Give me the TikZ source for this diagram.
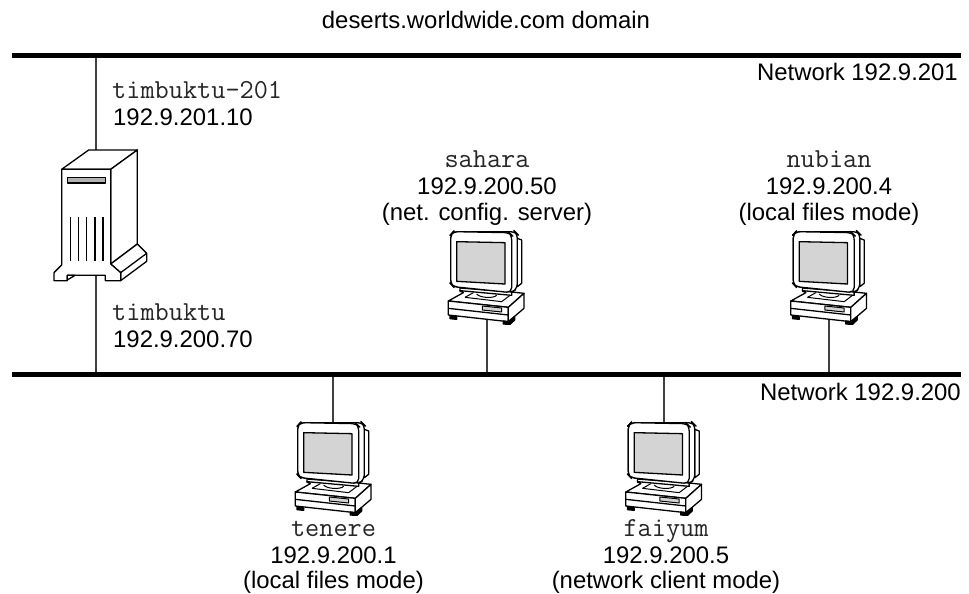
\documentclass[tikz,border=0pt]{standalone}
\usepackage{fontspec}
\setmainfont{Liberation Sans}
\tikzset{
  bar/.style={line width=5.5pt},
  wire/.style={line width=1.3pt,draw=black!75},
  art/.style={line width=1.3pt,line join=round},
  thin art/.style={line width=1pt,line join=round},
  lbl/.style={inner sep=0pt,font=\fontsize{23.9}{27}\selectfont,anchor=base},
  lbll/.style={lbl,anchor=base west},
  lblr/.style={lbl,anchor=base east},
  mono/.style={text=black!85,font=\fontsize{27.5}{27}\ttfamily\selectfont},
}
\definecolor{screen}{gray}{0.83}
\newcommand{\workstn}[2]{%
\begin{scope}[shift={(#1,#2)},x=0.33333pt,y=-0.33333pt]
  % back of monitor
  \draw[art,fill=white] (262,55) -- (275,60) -- (275,190) -- (262,200) -- cycle;
  % side of monitor
  \draw[art,fill=white,rounded corners=5pt] (62,44) -- (70,35) -- (255,35) -- (262,42) -- (262,205) -- (245,218) -- (70,200) -- (62,190) -- cycle;
  % stand
  \draw[art,fill=white] (90,204) -- (90,214) -- (130,218) -- (245,228) -- (245,216) -- cycle;
  % base top
  \draw[art,fill=white] (100,218) -- (55,243) -- (235,262) -- (282,220) -- (245,216) -- (245,226) -- (90,212) -- cycle;
  \draw[thin art] (105,232) -- (130,218);
  \draw[thin art] (105,232) -- (215,245) -- (240,226);
  \draw[thin art] (140,222) .. controls (150,234) and (190,236) .. (200,226);
  % front and side of base
  \draw[art,fill=white] (55,243) -- (55,285) -- (235,305) -- (235,262) -- cycle;
  \draw[art,fill=white] (235,262) -- (282,220) -- (282,265) -- (235,305) -- cycle;
  \draw[art] (55,265) -- (235,285);
  \draw[thin art,fill=screen] (157,258) -- (215,264) -- (215,276) -- (157,270) -- cycle;
  % feet
  \draw[art,fill=black] (60,288) -- (60,296) -- (80,298) -- (80,290) -- cycle;
  \draw[art,fill=black] (220,303) -- (220,312) -- (240,313) -- (254,300) -- (254,290) -- (235,305) -- cycle;
  % front of monitor
  \draw[art,fill=white,rounded corners=5pt] (62,44) -- (70,35) -- (238,38) -- (245,45) -- (245,218) -- (70,200) -- (62,192) -- cycle;
  \draw[art,fill=screen] (80,65) -- (225,68) -- (225,192) -- (80,184) -- cycle;
\end{scope}}
\begin{document}
\begin{tikzpicture}[x=1pt,y=-1pt]
\useasboundingbox (0,0) rectangle (969,594);
% networks
\coordinate (n1a) at (12,55.4); \coordinate (n1b) at (961,55.4);
\coordinate (n2a) at (12,374.5); \coordinate (n2b) at (961,374.5);
\coordinate (s1) at (96,55); \coordinate (s2) at (96,374.5);
\coordinate (srvtop) at (96,160); \coordinate (srvbot) at (96,276);
\coordinate (sa) at (487,374.5); \coordinate (sap) at (487,320);
\coordinate (nu) at (829,374.5); \coordinate (nup) at (829,320);
\coordinate (te) at (333,374.5); \coordinate (tep) at (333,425);
\coordinate (fa) at (664,374.5); \coordinate (fap) at (664,425);
\draw[wire] (s1) -- (srvtop);
\draw[wire] (srvbot) -- (s2);
\draw[wire] (sap) -- (sa);
\draw[wire] (nup) -- (nu);
\draw[wire] (te) -- (tep);
\draw[wire] (fa) -- (fap);
\draw[bar] (n1a) -- (n1b);
\draw[bar] (n2a) -- (n2b);
% server
\begin{scope}[shift={(30,140)},x=0.33333pt,y=-0.33333pt]
  \draw[art,fill=white] (95,88) -- (176,30) -- (322,30) -- (242,88) -- cycle;
  \draw[art,fill=white] (242,88) -- (322,30) -- (322,312) -- (242,372) -- cycle;
  \draw[art,fill=white] (242,372) -- (322,312) -- (350,340) -- (350,364) -- (272,422) -- (272,398) -- cycle;
  \draw[art] (272,398) -- (350,340);
  \draw[art,fill=white] (95,88) -- (242,88) -- (242,372) -- (272,398) -- (272,422) -- (226,422) -- (226,406) -- (112,406) -- (112,422) -- (72,422) -- (72,398) -- (95,375) -- cycle;
  \draw[art,fill=white] (112,406) -- (135,406) -- (112,420) -- cycle;
  \draw[art,fill=black!30] (113,113) rectangle (226,129);
  \foreach \x in {122,146,170,195,219} \draw[art] (\x,232) -- (\x,362);
\end{scope}
% workstations
\workstn{430}{220}
\workstn{772.5}{220}
\workstn{277}{411}
\workstn{607.5}{411}
% labels
\node[lbl] (title) at (486,28.5) {deserts.worldwide.com domain};
\node[lblr] (net1) at (958,81) {Network 192.9.201};
\node[lblr] (net2) at (961,400) {Network 192.9.200};
\node[lbll,mono] (t201) at (112,98) {timbuktu-201};
\node[lbll] (t201ip) at (113,125) {192.9.201.10};
\node[lbll,mono] (t) at (112,320.7) {timbuktu};
\node[lbll] (tip) at (113,347) {192.9.200.70};
\node[lbl,mono] (sa1) at (487,167) {sahara};
\node[lbl] (sa2) at (487,194) {192.9.200.50};
\node[lbl] (sa3) at (487,220.5) {(net. config. server)};
\node[lbl,mono] (nu1) at (829,167) {nubian};
\node[lbl] (nu2) at (829,194) {192.9.200.4};
\node[lbl] (nu3) at (829,220.5) {(local files mode)};
\node[lbl,mono] (te1) at (333.5,536.5) {tenere};
\node[lbl] (te2) at (333.5,563) {192.9.200.1};
\node[lbl] (te3) at (333.5,588) {(local files mode)};
\node[lbl,mono] (fa1) at (666,536.5) {faiyum};
\node[lbl] (fa2) at (666,563) {192.9.200.5};
\node[lbl] (fa3) at (666,588) {(network client mode)};
\end{tikzpicture}
\end{document}
